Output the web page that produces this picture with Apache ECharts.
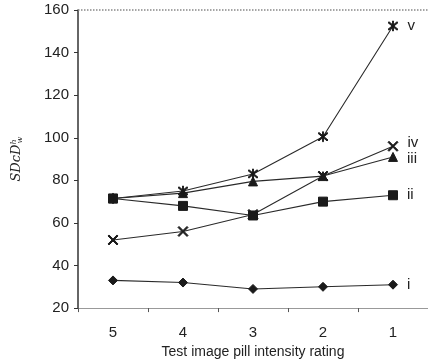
<!DOCTYPE html>
<html><head><meta charset="utf-8">
<script src="https://cdn.jsdelivr.net/npm/echarts@6/dist/echarts.min.js"></script>
<style>html,body{margin:0;padding:0;background:#fff}#c{width:428px;height:364px}</style>
</head><body><div id="c"></div>
<script>
var categories = ['5', '4', '3', '2', '1'];
var seriesNames = ['i', 'ii', 'iii', 'iv', 'v'];
var s_i   = [33, 32, 29, 30, 31];
var s_ii  = [71.5, 68, 63.5, 70, 73];
var s_iii = [71.5, 74, 79.5, 82, 91];
var s_iv  = [52, 56, 64, 82, 96];
var s_v   = [71.5, 75, 83, 100.5, 152.5];
var yTicks = [20, 40, 60, 80, 100, 120, 140, 160];

var symbols = ['diamond', 'rect', 'triangle',
  'path://M1,0L5,4L9,0L10,1L6,5L10,9L9,10L5,6L1,10L0,9L4,5L0,1Z',
  'path://M1,0L5,4L9,0L10,1L6,5L10,9L9,10L5,6L1,10L0,9L4,5L0,1Z M4.6,-1L5.4,-1L5.4,11L4.6,11Z'];
var sizes = [9, 9, 9, 10, 10];
var allData = [s_i, s_ii, s_iii, s_iv, s_v];
var labelOffsets = [[0, 0], [0, 0], [0, 2], [0, -3], [0, 0]];

var chart = echarts.init(document.getElementById('c'));
chart.setOption({
  animation: false,
  grid: {left: 78, right: -5, top: 10, bottom: 54},
  xAxis: {
    type: 'category', data: categories, boundaryGap: true,
    axisLine: {lineStyle: {color: '#999', width: 1}},
    axisTick: {show: true, length: 4, lineStyle: {color: '#555'}},
    axisLabel: {color: '#222', fontSize: 15, fontFamily: 'Liberation Sans', margin: 17},
    name: 'Test image pill intensity rating', nameLocation: 'middle', nameGap: 35,
    nameTextStyle: {color: '#222', fontSize: 14, fontFamily: 'Liberation Sans'}
  },
  yAxis: {
    type: 'value', min: 20, max: 160, interval: 20,
    axisLine: {show: true, lineStyle: {color: '#333', width: 1.5}},
    axisTick: {show: true, length: 4, lineStyle: {color: '#333'}},
    splitLine: {show: false},
    axisLabel: {color: '#222', fontSize: 15, fontFamily: 'Liberation Sans', margin: 9},
    name: '{m|SDcD}{s|h}{b|w}', nameLocation: 'middle', nameGap: 54, nameRotate: 90,
    nameTextStyle: {rich: {
      m: {fontFamily: 'DejaVu Serif', fontStyle: 'italic', fontSize: 13, color: '#222'},
      s: {fontFamily: 'DejaVu Serif', fontStyle: 'italic', fontSize: 8, color: '#222', verticalAlign: 'top', padding: [0,0,6,0]},
      b: {fontFamily: 'DejaVu Serif', fontStyle: 'italic', fontSize: 8, color: '#222', verticalAlign: 'bottom', padding: [6,0,0,-4]}
    }}
  },
  series: allData.map(function (arr, k) {
    return {
      type: 'line', name: seriesNames[k],
      symbol: symbols[k], symbolSize: sizes[k],
      lineStyle: {color: '#2a2a2a', width: 1.1},
      itemStyle: {color: '#1a1a1a', borderColor: '#1a1a1a', borderWidth: 1},
      data: arr.map(function (v, i) {
        var d = {value: v};
        if (i === arr.length - 1) {
          d.label = {show: true, position: 'right', distance: 9, offset: labelOffsets[k], formatter: seriesNames[k],
            color: '#222', fontSize: 15, fontFamily: 'Liberation Sans'};
        }
        return d;
      })
    };
  }).concat([{
    type: 'line', data: [], markLine: {
      silent: true, symbol: 'none', label: {show: false},
      lineStyle: {color: '#888', type: 'dotted', width: 1.5},
      data: [{yAxis: 160}]
    }
  }])
});
</script></body></html>
